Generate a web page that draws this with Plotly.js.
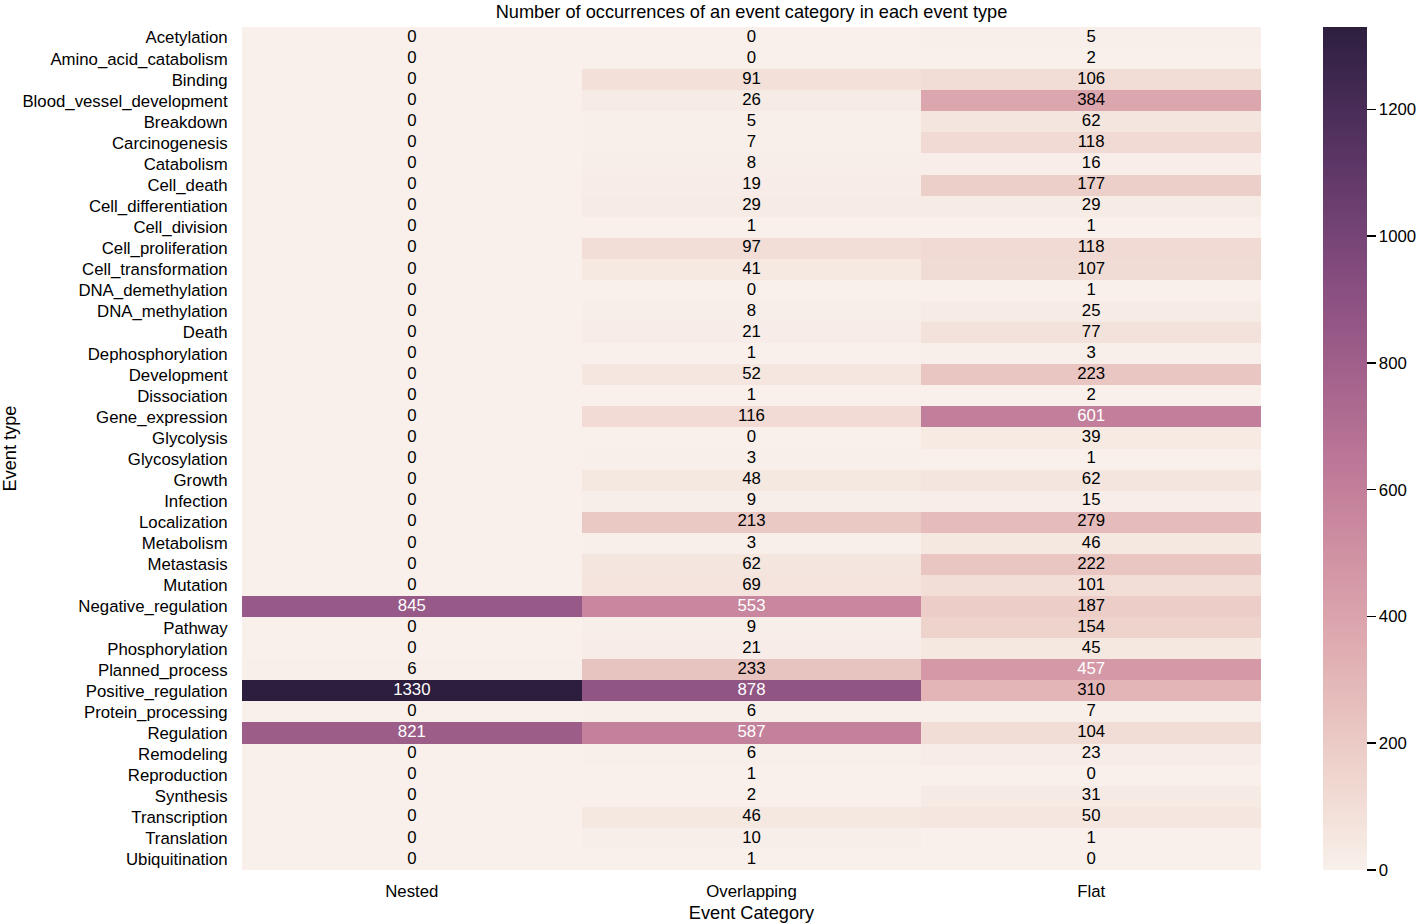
<!DOCTYPE html>
<html>
<head>
<meta charset="utf-8">
<script src="https://cdn.plot.ly/plotly-3.0.1.min.js"></script>
<style>html,body{margin:0;padding:0;background:#fff;}#chart{width:1424px;height:924px;}</style>
</head>
<body>
<div id="chart"></div>
<script>
const eventTypes = ["Acetylation","Amino_acid_catabolism","Binding","Blood_vessel_development","Breakdown","Carcinogenesis","Catabolism","Cell_death","Cell_differentiation","Cell_division","Cell_proliferation","Cell_transformation","DNA_demethylation","DNA_methylation","Death","Dephosphorylation","Development","Dissociation","Gene_expression","Glycolysis","Glycosylation","Growth","Infection","Localization","Metabolism","Metastasis","Mutation","Negative_regulation","Pathway","Phosphorylation","Planned_process","Positive_regulation","Protein_processing","Regulation","Remodeling","Reproduction","Synthesis","Transcription","Translation","Ubiquitination"];
const categories = ["Nested","Overlapping","Flat"];
const nested = [0,0,0,0,0,0,0,0,0,0,0,0,0,0,0,0,0,0,0,0,0,0,0,0,0,0,0,845,0,0,6,1330,0,821,0,0,0,0,0,0];
const overlapping = [0,0,91,26,5,7,8,19,29,1,97,41,0,8,21,1,52,1,116,0,3,48,9,213,3,62,69,553,9,21,233,878,6,587,6,1,2,46,10,1];
const flat = [5,2,106,384,62,118,16,177,29,1,118,107,1,25,77,3,223,2,601,39,1,62,15,279,46,222,101,187,154,45,457,310,7,104,23,0,31,50,1,0];
const colorbarTicks = [0,200,400,600,800,1000,1200];

const columns = [nested, overlapping, flat];
const z = eventTypes.map((_, i) => columns.map(col => col[i]));
const zmax = Math.max(...nested, ...overlapping, ...flat);

// seaborn cubehelix palette (start=0, rot=0.4, hue=0.8, light=0.95, dark=0.15)
const LIGHT = 0.95, DARK = 0.15;
function cube(x) {
  const a = 0.8 * x * (1 - x) / 2;
  const phi = 2 * Math.PI * (0 / 3 + 0.4 * x);
  const c = Math.cos(phi), s = Math.sin(phi);
  const clip = v => Math.min(1, Math.max(0, v));
  return [clip(x + a * (-0.14861 * c + 1.78277 * s)),
          clip(x + a * (-0.29227 * c - 0.90649 * s)),
          clip(x + a * (1.97294 * c))];
}
function colorAt(t) { return cube(LIGHT + (DARK - LIGHT) * t); }
const colorscale = [];
for (let i = 0; i < 256; i++) {
  const t = i / 255;
  const c = colorAt(t).map(v => Math.round(v * 255));
  colorscale.push([t, `rgb(${c[0]},${c[1]},${c[2]})`]);
}
function lum(rgb) {
  const lin = rgb.map(v => v <= 0.03928 ? v / 12.92 : Math.pow((v + 0.055) / 1.055, 2.4));
  return 0.2126 * lin[0] + 0.7152 * lin[1] + 0.0722 * lin[2];
}

const FONT = "Liberation Sans, Arial, sans-serif";
const FS = 16.8;
const TFS = 18.2;

const tx = [], ty = [], tt = [], tc = [];
eventTypes.forEach((et, i) => {
  categories.forEach((cat, j) => {
    const v = columns[j][i];
    tx.push(cat); ty.push(et); tt.push(String(v));
    tc.push(lum(colorAt(v / zmax)) > 0.408 ? "#000000" : "#ffffff");
  });
});

const heat = {
  type: "heatmap",
  x: categories,
  y: eventTypes,
  z: z,
  zmin: 0,
  zmax: zmax,
  colorscale: colorscale,
  xgap: 0, ygap: 0,
  hoverinfo: "x+y+z",
  colorbar: {
    x: (1323 - 242) / 1019, xanchor: "left", xpad: 0,
    y: 0.5, yanchor: "middle", ypad: 0,
    len: 843, lenmode: "pixels",
    thickness: 44, thicknessmode: "pixels",
    outlinewidth: 0,
    tickvals: colorbarTicks,
    ticktext: colorbarTicks.map(String),
    ticks: "outside", ticklen: 9, tickwidth: 1.5, tickcolor: "#000",
    tickfont: { family: FONT, size: FS, color: "#000" }
  }
};

const labels = {
  type: "scatter",
  mode: "text",
  x: tx, y: ty, text: tt,
  textposition: "middle center",
  textfont: { family: FONT, size: FS, color: tc },
  hoverinfo: "skip",
  showlegend: false
};

const layout = {
  width: 1424, height: 924,
  margin: { l: 242, r: 163, t: 27, b: 54, pad: 0, autoexpand: false },
  paper_bgcolor: "#ffffff",
  plot_bgcolor: "#ffffff",
  font: { family: FONT, size: FS, color: "#000" },
  title: {
    text: "Number of occurrences of an event category in each event type",
    font: { family: FONT, size: TFS, color: "#000" },
    x: 0.5, xref: "paper", xanchor: "center",
    y: 1 - 12 / 924, yref: "container", yanchor: "middle"
  },
  xaxis: {
    type: "category",
    categoryorder: "array", categoryarray: categories,
    range: [-0.5, 2.5],
    showgrid: false, zeroline: false, showline: false,
    ticks: "outside", ticklen: 6, tickcolor: "rgba(0,0,0,0)",
    tickfont: { family: FONT, size: FS, color: "#000" },
    title: { text: "Event Category", font: { family: FONT, size: TFS, color: "#000" }, standoff: 6 },
    fixedrange: true, automargin: false
  },
  yaxis: {
    type: "category",
    categoryorder: "array", categoryarray: eventTypes,
    range: [eventTypes.length - 0.5, -0.5],
    showgrid: false, zeroline: false, showline: false,
    ticks: "outside", ticklen: 10, tickcolor: "rgba(0,0,0,0)",
    tickfont: { family: FONT, size: FS, color: "#000" },
    title: { text: "Event type", font: { family: FONT, size: TFS, color: "#000" }, standoff: 4 },
    fixedrange: true, automargin: false
  },
  showlegend: false
};

Plotly.newPlot("chart", [heat, labels], layout, { displayModeBar: false, staticPlot: true });
</script>
</body>
</html>
